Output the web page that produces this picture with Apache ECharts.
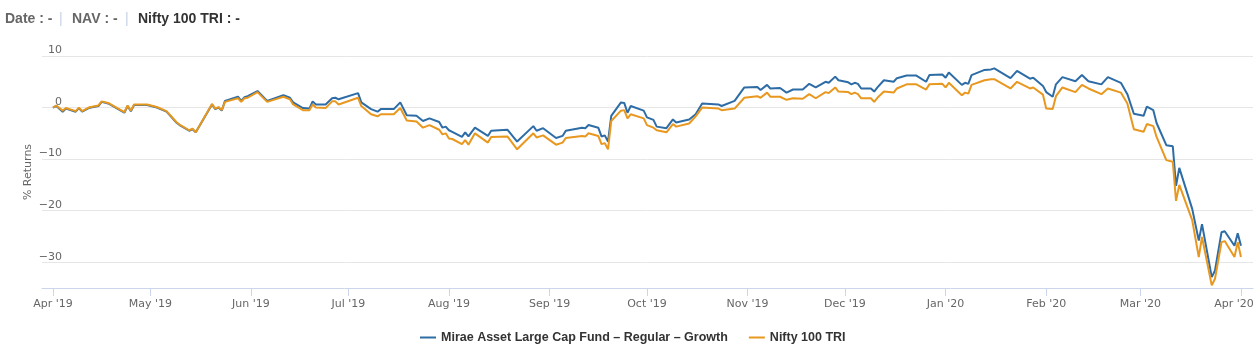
<!DOCTYPE html>
<html>
<head>
<meta charset="utf-8">
<script src="https://cdn.jsdelivr.net/npm/echarts@6.0.0/dist/echarts.min.js"></script>
<style>
  html, body { margin: 0; padding: 0; background: #fff; }
  #chart { width: 1260px; height: 351px; }
</style>
</head>
<body>
<div id="chart"></div>
<script>
// values (% returns since 1 Apr 2019)
var dates = [
  '2019-04-01', '2019-04-02', '2019-04-04', '2019-04-05', '2019-04-08', '2019-04-09', '2019-04-10', '2019-04-12',
  '2019-04-15', '2019-04-16', '2019-04-18', '2019-04-23', '2019-04-24', '2019-04-25', '2019-04-26', '2019-04-30',
  '2019-05-03', '2019-05-06', '2019-05-09', '2019-05-10', '2019-05-13', '2019-05-14', '2019-05-15', '2019-05-20',
  '2019-05-21', '2019-05-22', '2019-05-23', '2019-05-24', '2019-05-28', '2019-05-29', '2019-05-30', '2019-05-31',
  '2019-06-03', '2019-06-06', '2019-06-11', '2019-06-13', '2019-06-14', '2019-06-17', '2019-06-19', '2019-06-20',
  '2019-06-21', '2019-06-24', '2019-06-26', '2019-06-27', '2019-06-28', '2019-07-04', '2019-07-05', '2019-07-08',
  '2019-07-10', '2019-07-11', '2019-07-15', '2019-07-17', '2019-07-19', '2019-07-22', '2019-07-24', '2019-07-26',
  '2019-07-29', '2019-07-30', '2019-07-31', '2019-08-01', '2019-08-02', '2019-08-05', '2019-08-06', '2019-08-07',
  '2019-08-09', '2019-08-13', '2019-08-14', '2019-08-19', '2019-08-22', '2019-08-27', '2019-08-28', '2019-08-30',
  '2019-09-03', '2019-09-05', '2019-09-06', '2019-09-11', '2019-09-12', '2019-09-13', '2019-09-16', '2019-09-17',
  '2019-09-18', '2019-09-19', '2019-09-20', '2019-09-23', '2019-09-24', '2019-09-25', '2019-09-26', '2019-09-30',
  '2019-10-01', '2019-10-03', '2019-10-04', '2019-10-07', '2019-10-09', '2019-10-10', '2019-10-14', '2019-10-16',
  '2019-10-18', '2019-10-23', '2019-10-24', '2019-10-28', '2019-10-31', '2019-11-04', '2019-11-05', '2019-11-07',
  '2019-11-08', '2019-11-11', '2019-11-13', '2019-11-15', '2019-11-18', '2019-11-20', '2019-11-22', '2019-11-25',
  '2019-11-26', '2019-11-28', '2019-11-29', '2019-12-02', '2019-12-03', '2019-12-04', '2019-12-05', '2019-12-06',
  '2019-12-09', '2019-12-10', '2019-12-11', '2019-12-13', '2019-12-16', '2019-12-17', '2019-12-20', '2019-12-23',
  '2019-12-26', '2019-12-27', '2019-12-31', '2020-01-01', '2020-01-02', '2020-01-06', '2020-01-07', '2020-01-08',
  '2020-01-09', '2020-01-13', '2020-01-15', '2020-01-16', '2020-01-21', '2020-01-23', '2020-01-27', '2020-01-28',
  '2020-01-31', '2020-02-01', '2020-02-03', '2020-02-04', '2020-02-06', '2020-02-10', '2020-02-12', '2020-02-14',
  '2020-02-18', '2020-02-20', '2020-02-24', '2020-02-26', '2020-02-28', '2020-03-02', '2020-03-03', '2020-03-05',
  '2020-03-06', '2020-03-09', '2020-03-11', '2020-03-12', '2020-03-13', '2020-03-17', '2020-03-19', '2020-03-20',
  '2020-03-23', '2020-03-24', '2020-03-26', '2020-03-27', '2020-03-30', '2020-03-31', '2020-04-01'
];
var fundReturns = [
  0.0, 0.3, -0.8, -0.2, -0.8, -0.1, -0.8, -0.1,
  0.3, 1.1, 0.8, -1.0, 0.3, -0.7, 0.5, 0.5,
  0.0, -0.8, -2.9, -3.4, -4.5, -4.2, -4.8, 0.6,
  -0.3, 0.0, -0.6, 1.3, 2.1, 1.3, 2.0, 2.2,
  3.2, 1.3, 2.4, 1.9, 1.0, -0.1, -0.2, 1.2,
  0.6, 0.6, 1.8, 1.9, 1.6, 2.8, 1.0, -0.3,
  -0.8, -0.3, -0.3, 1.0, -1.5, -1.6, -2.6, -2.1,
  -2.8, -3.9, -3.7, -4.4, -4.7, -5.7, -4.8, -5.6,
  -3.9, -5.5, -4.5, -4.3, -6.6, -3.6, -4.5, -4.0,
  -5.9, -5.5, -4.5, -3.9, -4.0, -3.4, -3.9, -5.6,
  -5.4, -6.6, -1.6, 1.0, 0.9, -1.0, 0.3, -0.6,
  -1.9, -2.4, -3.7, -4.0, -2.3, -2.9, -2.3, -1.3,
  0.8, 0.6, 0.3, 1.3, 3.9, 4.0, 3.4, 4.4,
  3.7, 3.8, 2.9, 3.5, 3.5, 4.6, 3.9, 5.0,
  4.8, 6.0, 5.3, 4.9, 4.5, 4.8, 4.6, 3.7,
  3.7, 3.1, 3.9, 5.3, 5.0, 5.7, 6.2, 6.2,
  5.0, 6.3, 6.4, 5.8, 6.8, 4.4, 4.8, 4.6,
  6.3, 7.3, 7.4, 7.6, 5.7, 7.1, 5.6, 5.8,
  4.2, 3.0, 2.1, 4.5, 5.9, 5.1, 6.3, 5.1,
  4.5, 5.9, 4.8, 2.6, -1.2, -1.6, 0.2, -0.5,
  -3.0, -7.3, -7.5, -15.2, -11.7, -19.7, -25.8, -22.6,
  -32.9, -31.6, -24.2, -24.0, -26.8, -24.4, -26.8
];
var indexReturns = [
  0.0, 0.4, -0.6, -0.1, -0.7, 0.0, -0.7, 0.0,
  0.4, 1.2, 0.9, -0.9, 0.4, -0.6, 0.6, 0.6,
  0.1, -0.7, -2.8, -3.3, -4.4, -4.1, -4.8, 0.7,
  -0.2, 0.1, -0.5, 1.1, 1.8, 1.1, 1.8, 1.9,
  3.0, 1.1, 2.1, 1.6, 0.6, -0.5, -0.5, 0.6,
  0.0, -0.1, 1.2, 1.2, 0.6, 1.9, 0.3, -1.3,
  -1.7, -1.3, -1.3, -0.1, -2.5, -2.7, -3.9, -3.4,
  -4.3, -5.2, -5.0, -6.0, -6.1, -7.1, -6.3, -7.2,
  -5.0, -6.8, -5.7, -5.6, -8.1, -5.0, -5.8, -5.4,
  -7.2, -6.8, -5.9, -5.5, -5.6, -5.0, -5.5, -7.1,
  -6.9, -8.1, -2.6, -0.6, -0.5, -2.1, -1.3, -2.1,
  -3.4, -3.9, -4.4, -4.8, -3.2, -3.7, -3.1, -1.7,
  0.0, -0.2, -0.5, -0.2, 1.9, 2.2, 1.9, 2.9,
  2.1, 2.1, 1.5, 1.8, 1.7, 2.6, 1.8, 3.0,
  2.8, 3.9, 3.1, 3.0, 2.6, 2.9, 2.6, 1.8,
  1.8, 1.1, 1.9, 3.1, 2.9, 3.7, 4.5, 4.5,
  3.5, 4.5, 4.6, 3.9, 4.8, 2.4, 2.9, 2.7,
  4.4, 5.3, 5.5, 5.5, 3.7, 5.0, 3.7, 3.9,
  2.5, -0.2, -0.3, 2.2, 3.9, 3.0, 4.4, 3.7,
  2.6, 3.7, 2.9, 0.8, -4.2, -4.7, -3.2, -3.6,
  -5.7, -10.2, -10.5, -18.1, -15.0, -21.9, -29.0, -25.1,
  -34.5, -33.2, -26.1, -25.9, -29.0, -26.1, -29.0
];
var seriesNames = ['Mirae Asset Large Cap Fund \u2013 Regular \u2013 Growth', 'Nifty 100 TRI'];
var monthNames = ['Jan', 'Feb', 'Mar', 'Apr', 'May', 'Jun', 'Jul', 'Aug', 'Sep', 'Oct', 'Nov', 'Dec'];
var yTicks = [-30, -20, -10, 0, 10];

var chart = echarts.init(document.getElementById('chart'), null, { renderer: 'canvas' });

var headerFont = 'bold 14px "Liberation Sans", Arial, sans-serif';
var sepFont = '14px "Liberation Sans", Arial, sans-serif';
var axisFont = '"DejaVu Sans", sans-serif';

chart.setOption({
  animation: false,
  color: ['#2e6ca5', '#e8981f'],
  grid: { left: 42, right: 7, top: 56, bottom: 63, containLabel: false, outerBoundsMode: 'none' },
  graphic: [
    { type: 'text', left: 5, top: 12, style: { text: 'Date : -', font: headerFont, fill: '#666666' } },
    { type: 'text', left: 59, top: 12, style: { text: '|', font: sepFont, fill: '#c5d2e6' } },
    { type: 'text', left: 72, top: 12, style: { text: 'NAV : -', font: headerFont, fill: '#666666' } },
    { type: 'text', left: 125, top: 12, style: { text: '|', font: sepFont, fill: '#c5d2e6' } },
    { type: 'text', left: 138, top: 12, style: { text: 'Nifty 100 TRI : -', font: headerFont, fill: '#333333' } }
  ],
  legend: {
    data: seriesNames,
    left: 415,
    top: 326,
    icon: 'rect',
    itemWidth: 16,
    itemHeight: 2,
    itemGap: 21,
    textStyle: { fontFamily: '"Liberation Sans", Arial, sans-serif', fontWeight: 'bold', fontSize: 12.5, color: '#333333' }
  },
  xAxis: {
    type: 'time',
    min: '2019-03-28 15:00',
    max: '2020-04-04 17:00',
    splitNumber: 12,
    minInterval: 28 * 86400000,
    maxInterval: 31 * 86400000,
    axisLine: { onZero: false, lineStyle: { color: '#ccd6eb', width: 1 } },
    axisTick: { show: true, length: 8, lineStyle: { color: '#ccd6eb' } },
    splitLine: { show: false },
    axisLabel: {
      color: '#666666',
      fontFamily: axisFont,
      fontSize: 11,
      margin: 11,
      showMinLabel: false,
      showMaxLabel: false,
      hideOverlap: false,
      formatter: function (value) {
        var d = new Date(value);
        var text = monthNames[d.getMonth()] + " '" + String(d.getFullYear()).slice(2);
        // the last label is pulled left so it stays inside the chart
        return d.getFullYear() === 2020 && d.getMonth() === 3 ? '{last|' + text + '}' : text;
      },
      rich: {
        last: { color: '#666666', fontFamily: axisFont, fontSize: 11, padding: [0, 14, 0, 0] }
      }
    }
  },
  yAxis: {
    type: 'value',
    min: -35,
    max: 10,
    interval: 5,
    name: '% Returns',
    nameLocation: 'middle',
    nameRotate: 90,
    nameGap: 8,
    nameMoveOverlap: false,
    nameTextStyle: { color: '#666666', fontFamily: axisFont, fontSize: 11 },
    axisLine: { show: false },
    axisTick: { show: false },
    splitLine: { show: true, lineStyle: { color: ['rgba(0,0,0,0)', '#e6e6e6'], width: 1 } },
    axisLabel: {
      inside: true,
      align: 'right',
      verticalAlign: 'bottom',
      margin: 20,
      color: '#666666',
      fontFamily: axisFont,
      fontSize: 11,
      formatter: function (v) {
        if (yTicks.indexOf(v) < 0) return '';
        return v < 0 ? '\u2212' + Math.abs(v) : String(v);
      }
    }
  },
  series: [
    {
      name: seriesNames[0],
      type: 'line',
      data: dates.map(function (d, i) { return [d, fundReturns[i]]; }),
      showSymbol: false,
      lineStyle: { width: 2 },
      z: 2
    },
    {
      name: seriesNames[1],
      type: 'line',
      data: dates.map(function (d, i) { return [d, indexReturns[i]]; }),
      showSymbol: false,
      lineStyle: { width: 2 },
      z: 3
    }
  ]
});
</script>
</body>
</html>
